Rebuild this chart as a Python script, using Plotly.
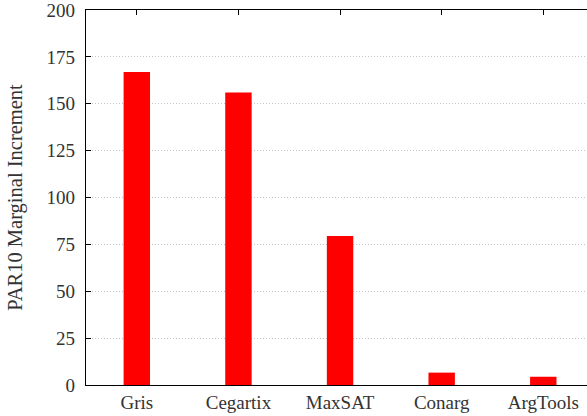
import plotly.graph_objects as go

categories = ["Gris", "Cegartix", "MaxSAT", "Conarg", "ArgTools"]
values = [167, 156, 79.5, 6.6, 4.4]
y_ticks = [0, 25, 50, 75, 100, 125, 150, 175, 200]

FONT = "Liberation Serif"
TXT = "#333333"

fig = go.Figure()
fig.add_trace(go.Bar(
    x=categories, y=values, width=0.26,
    marker=dict(color="#ff0000", line=dict(width=0)),
    hoverinfo="skip",
))
# invisible helper trace to draw category ticks on the top border
fig.add_trace(go.Scatter(
    x=categories, y=values, xaxis="x2", mode="markers",
    marker=dict(opacity=0), hoverinfo="skip", showlegend=False,
))

fig.update_layout(
    width=587, height=416,
    margin=dict(l=86, r=0, t=10, b=31),
    paper_bgcolor="white", plot_bgcolor="white",
    showlegend=False,
    font=dict(family=FONT, size=19, color=TXT),
    xaxis=dict(
        type="category", range=[-0.5, 4.43],
        showline=True, linecolor="black", linewidth=1.3, mirror=False,
        ticks="", showgrid=False, zeroline=False,
        tickfont=dict(family=FONT, size=19, color=TXT),
    ),
    xaxis2=dict(
        type="category", overlaying="x", side="top", range=[-0.5, 4.43],
        showline=True, linecolor="black", linewidth=1.3,
        ticks="inside", ticklen=5, tickcolor="black", tickwidth=1,
        showticklabels=False, showgrid=False, zeroline=False,
    ),
    yaxis=dict(
        range=[0, 200], tickvals=y_ticks,
        showline=True, linecolor="black", linewidth=1.3,
        ticks="inside", ticklen=5, tickcolor="black", tickwidth=1,
        ticklabelstandoff=6, ticklabeloverflow="allow",
        showgrid=True, gridcolor="#c4c4c4", griddash="1px,2px", gridwidth=1,
        zeroline=False,
        tickfont=dict(family=FONT, size=19, color=TXT),
        title=dict(text="PAR10 Marginal Increment", standoff=18,
                   font=dict(family=FONT, size=20.5, color=TXT)),
    ),
)

fig.write_html("out.html", config={"displayModeBar": False})

# remove the default page margin so the figure sits at the window's corner
with open("out.html", encoding="utf-8") as f:
    html = f.read()
html = html.replace("<body>", '<body style="margin:0;padding:0;overflow:hidden">', 1)
with open("out.html", "w", encoding="utf-8") as f:
    f.write(html)
